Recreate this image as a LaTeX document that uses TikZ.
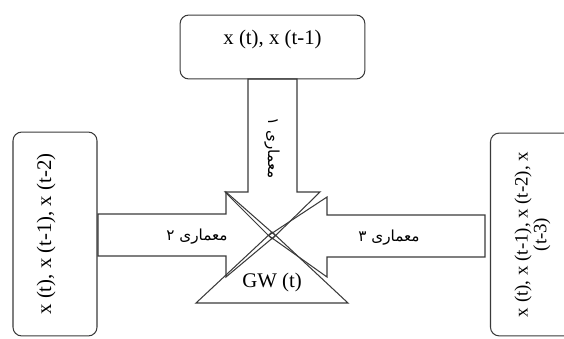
\documentclass[tikz,border=0pt]{standalone}
\usepackage{fontspec}
\setmainfont{Liberation Serif}
\newfontfamily\arabicfont[Script=Arabic]{DejaVu Sans}
\TeXXeTstate=1
\definecolor{ink}{HTML}{3A3A3A}
\tikzset{
  databox/.style={draw=ink,line width=0.6pt,rounded corners=5pt,
                  inner sep=0pt,font=\fontsize{12}{14}\selectfont},
  blockarr/.style={draw=ink,line width=0.6pt,line join=miter},
  archlabel/.style={inner sep=1pt,font=\arabicfont\fontsize{8.8}{10}\selectfont}
}

\begin{document}
\begin{tikzpicture}[x=0.02029cm,y=-0.02029cm]
  \useasboundingbox (0,0) rectangle (564,338);

  % input windows
  \node[databox,minimum width=106.7pt,minimum height=36.9pt,
        text height=9pt,text depth=12pt] (win1) at (272.5,47) {x (t), x (t-1)};
  \node[databox,rotate=90,minimum width=117.7pt,minimum height=48.5pt,
        text height=9pt,text depth=13.6pt] (win2) at (55,234) {x (t), x (t-1), x (t-2)};
  \node[databox,rotate=90,minimum width=117.1pt,minimum height=48.5pt,
        align=center,font=\fontsize{10.9}{9.1}\selectfont] (win3) at (532.5,234.5)
        {x (t), x (t-1), x (t-2), x\\(t-3)};

  % block arrows meeting at the GW hub
  \draw[blockarr] (248,79) -- (248,192) -- (225,192) -- (272,239)
        -- (320,192) -- (297,192) -- (297,79) -- cycle;
  \draw[blockarr] (98,214) -- (226,214) -- (226,192) -- (275.5,235.5)
        -- (226,277) -- (226,256) -- (98,256) -- cycle;
  \draw[blockarr] (485,215) -- (327,215) -- (327,197) -- (268.5,235.5)
        -- (327,277) -- (327,257) -- (485,257) -- cycle;
  \draw[blockarr] (196,303) -- (348,303) -- (272,232) -- cycle;

  \node[archlabel,rotate=-90] (arch1) at (272,148) {\beginR معماری ۱\endR};
  \node[archlabel] (arch2) at (197,237) {\beginR معماری ۲\endR};
  \node[archlabel] (arch3) at (389,238) {\beginR معماری ۳\endR};
  \node[font=\fontsize{12}{14}\selectfont,inner sep=0pt] (gw) at (272,282) {GW (t)};
\end{tikzpicture}
\end{document}
